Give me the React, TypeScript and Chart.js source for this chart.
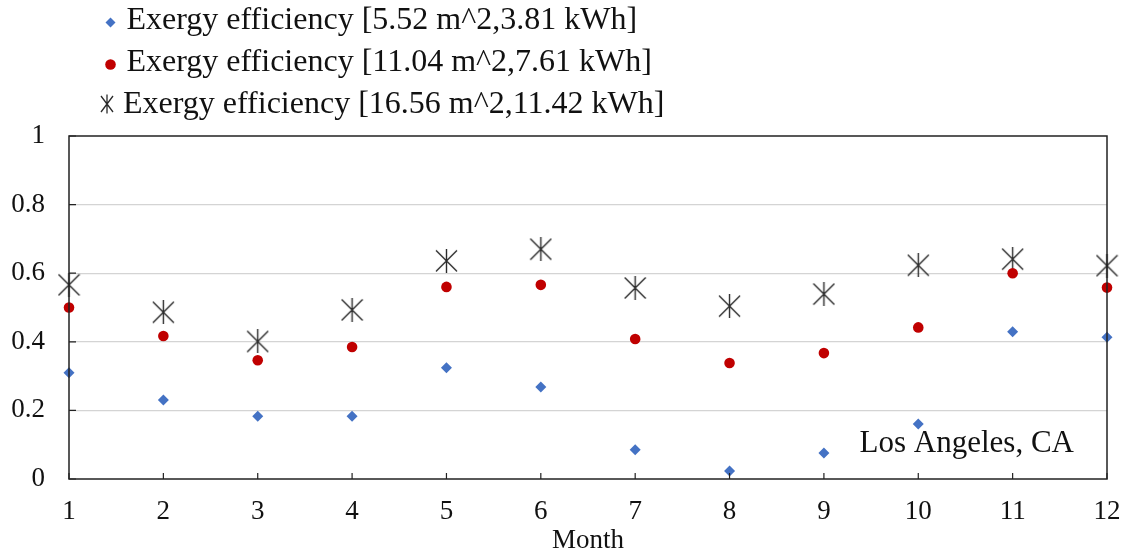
import React, { useEffect, useRef } from "react";
import { Chart, registerables } from "chart.js";

Chart.register(...registerables);

const months = [1, 2, 3, 4, 5, 6, 7, 8, 9, 10, 11, 12];
const seriesSmall = [0.31, 0.23, 0.183, 0.183, 0.324, 0.268, 0.085, 0.023, 0.076, 0.16, 0.429, 0.413];
const seriesMid = [0.5, 0.417, 0.346, 0.385, 0.56, 0.566, 0.408, 0.338, 0.367, 0.442, 0.6, 0.558];
const seriesLarge = [0.566, 0.486, 0.401, 0.493, 0.636, 0.67, 0.557, 0.504, 0.539, 0.623, 0.641, 0.622];
const seriesLabels = [
  "Exergy efficiency [5.52 m^2,3.81 kWh]",
  "Exergy efficiency [11.04 m^2,7.61 kWh]",
  "Exergy efficiency [16.56 m^2,11.42 kWh]",
];
const yTickValues = [0, 0.2, 0.4, 0.6, 0.8, 1];
const xTitle = "Month";
const locationLabel = "Los Angeles, CA";

const FONT = "'Liberation Serif', 'Times New Roman', serif";
const BLUE = "#4472C4";
const RED = "#C00000";
const STAR = "#2b2b2b";
const TEXT = "#111";

function makeStar(w: number, h: number) {
  const c = document.createElement("canvas");
  c.width = w;
  c.height = h;
  const ctx = c.getContext("2d")!;
  ctx.strokeStyle = STAR;
  ctx.lineWidth = 1.4;
  const mx = w / 2;
  const my = h / 2;
  const rx = w / 2 - 1;
  const ry = Math.min(h / 2 - 1, rx * 1.0);
  ctx.beginPath();
  ctx.moveTo(mx - rx, my - ry);
  ctx.lineTo(mx + rx, my + ry);
  ctx.moveTo(mx + rx, my - ry);
  ctx.lineTo(mx - rx, my + ry);
  ctx.moveTo(mx, 0);
  ctx.lineTo(mx, h);
  ctx.stroke();
  return c;
}

export default function App() {
  const ref = useRef<HTMLCanvasElement | null>(null);

  useEffect(() => {
    document.body.style.margin = "0";
    const star = makeStar(23, 24);

    const decorPlugin = {
      id: "decor",
      afterDraw(chart: any) {
        const { ctx, chartArea } = chart;
        const xs = chart.scales.x;
        const ys = chart.scales.y;
        ctx.save();
        // border
        ctx.strokeStyle = "#222";
        ctx.lineWidth = 1.5;
        ctx.strokeRect(chartArea.left, chartArea.top, chartArea.right - chartArea.left, chartArea.bottom - chartArea.top);
        // inward ticks
        ctx.lineWidth = 1.2;
        ctx.beginPath();
        months.forEach((m) => {
          const px = xs.getPixelForValue(m);
          ctx.moveTo(px, chartArea.bottom);
          ctx.lineTo(px, chartArea.bottom - 6);
        });
        yTickValues.forEach((v) => {
          const py = ys.getPixelForValue(v);
          ctx.moveTo(chartArea.left, py);
          ctx.lineTo(chartArea.left + 7, py);
        });
        ctx.stroke();

        // location label
        ctx.fillStyle = TEXT;
        ctx.font = `31px ${FONT}`;
        ctx.textAlign = "right";
        ctx.textBaseline = "alphabetic";
        ctx.fillText(locationLabel, 1074, 452);

        // legend
        const baselines = [28.5, 71, 113];
        const markerY = [22.5, 64.5, 104];
        const mx = [110.5, 110.5, 107];
        const tx = [126.5, 126.5, 123];
        ctx.textAlign = "left";
        ctx.font = `32px ${FONT}`;
        baselines.forEach((b, i) => {
          const y = markerY[i];
          if (i === 0) {
            ctx.fillStyle = BLUE;
            ctx.beginPath();
            ctx.moveTo(mx[i], y - 5);
            ctx.lineTo(mx[i] + 5, y);
            ctx.lineTo(mx[i], y + 5);
            ctx.lineTo(mx[i] - 5, y);
            ctx.closePath();
            ctx.fill();
          } else if (i === 1) {
            ctx.fillStyle = RED;
            ctx.beginPath();
            ctx.arc(mx[i], y, 5.3, 0, Math.PI * 2);
            ctx.fill();
          } else {
            ctx.strokeStyle = STAR;
            ctx.lineWidth = 1.3;
            ctx.beginPath();
            ctx.moveTo(mx[i] - 6, y - 8);
            ctx.lineTo(mx[i] + 6, y + 8);
            ctx.moveTo(mx[i] + 6, y - 8);
            ctx.lineTo(mx[i] - 6, y + 8);
            ctx.moveTo(mx[i], y - 9.5);
            ctx.lineTo(mx[i], y + 9.5);
            ctx.stroke();
          }
          ctx.fillStyle = TEXT;
          ctx.fillText(seriesLabels[i], tx[i], b);
        });
        ctx.restore();
      },
    };

    const chart = new Chart(ref.current!, {
      type: "scatter",
      data: {
        datasets: [
          {
            label: seriesLabels[0],
            data: months.map((m, i) => ({ x: m, y: seriesSmall[i] })),
            pointStyle: "rectRot",
            pointRadius: 5.5,
            backgroundColor: BLUE,
            borderColor: BLUE,
            borderWidth: 0,
            clip: false,
          } as any,
          {
            label: seriesLabels[1],
            data: months.map((m, i) => ({ x: m, y: seriesMid[i] })),
            pointStyle: "circle",
            pointRadius: 5.3,
            backgroundColor: RED,
            borderColor: RED,
            borderWidth: 0,
            clip: false,
          } as any,
          {
            label: seriesLabels[2],
            data: months.map((m, i) => ({ x: m, y: seriesLarge[i] })),
            pointStyle: star,
            pointRadius: 12,
            backgroundColor: STAR,
            borderColor: STAR,
            clip: false,
          } as any,
        ],
      },
      options: {
        animation: false,
        responsive: false,
        maintainAspectRatio: false,
        layout: { padding: { top: 136, right: 22, left: 0, bottom: 0 } },
        plugins: {
          legend: { display: false },
          tooltip: { enabled: false },
        },
        scales: {
          x: {
            type: "linear",
            min: 1,
            max: 12,
            afterBuildTicks: (scale: any) => {
              scale.ticks = months.map((m) => ({ value: m }));
            },
            afterFit: (scale: any) => {
              scale.height = 75;
              scale.paddingLeft = 0;
              scale.paddingRight = 0;
            },
            grid: { display: false, drawTicks: false },
            border: { display: false },
            ticks: {
              color: TEXT,
              font: { family: FONT, size: 27, lineHeight: 1.2 },
              padding: 17,
              maxRotation: 0,
            },
            title: {
              display: true,
              text: xTitle,
              color: TEXT,
              font: { family: FONT, size: 27, lineHeight: 1 },
              padding: { top: 0, bottom: 0 },
            },
          },
          y: {
            type: "linear",
            min: 0,
            max: 1,
            afterBuildTicks: (scale: any) => {
              scale.ticks = yTickValues.map((v) => ({ value: v }));
            },
            afterFit: (scale: any) => {
              scale.width = 69;
              scale.paddingTop = 0;
              scale.paddingBottom = 0;
            },
            grid: {
              drawTicks: false,
              color: (c: any) => (c.tick && (c.tick.value === 0 || c.tick.value === 1) ? "rgba(0,0,0,0)" : "#d4d4d4"),
              lineWidth: 1.2,
            },
            border: { display: false },
            ticks: {
              color: TEXT,
              font: { family: FONT, size: 27 },
              padding: 24,
              callback: (v: any) => String(Math.round(Number(v) * 10) / 10),
            },
          },
        },
      } as any,
      plugins: [decorPlugin],
    });
    return () => chart.destroy();
  }, []);

  return (
    <div style={{ position: "absolute", left: 0, top: 0, width: 1129, height: 554 }}>
      <canvas ref={ref} width={1129} height={554} style={{ width: 1129, height: 554 }} />
    </div>
  );
}
